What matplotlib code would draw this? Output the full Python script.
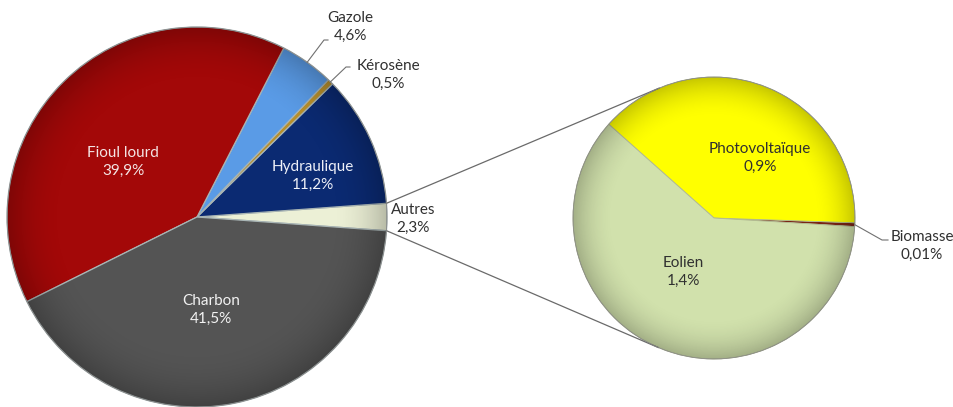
import numpy as np
import matplotlib.pyplot as plt

plt.rcParams['font.family'] = ['Lato', 'DejaVu Sans']

# --- données (part dans la production d'électricité) ---
# camembert principal, dans le sens anti-horaire en partant de la droite
MAIN_LABELS = ["Autres", "Hydraulique", "Kérosène", "Gazole", "Fioul lourd", "Charbon"]
MAIN_VALUES = [2.3, 11.2, 0.5, 4.6, 39.9, 41.5]
MAIN_PCT = ["2,3%", "11,2%", "0,5%", "4,6%", "39,9%", "41,5%"]
# détail de "Autres"
SUB_LABELS = ["Biomasse", "Photovoltaïque", "Eolien"]
SUB_VALUES = [0.01, 0.9, 1.4]
SUB_PCT = ["0,01%", "0,9%", "1,4%"]

MAIN_COLORS = ["#ECF0D6", "#0B2A72", "#B8902C", "#5A9BE6", "#A30808", "#545454"]
SUB_COLORS = ["#7A2414", "#FFFF00", "#D1E1AC"]

W, H = 954, 407
MAIN_C, MAIN_R = (197, 190), 190
SUB_C, SUB_R = (714, 189), 141

fig = plt.figure(figsize=(W / 100, H / 100), dpi=100)
ax = fig.add_axes([0, 0, 1, 1])

main_start = -MAIN_VALUES[0] / sum(MAIN_VALUES) * 360 / 2
wm, _ = ax.pie(MAIN_VALUES, colors=MAIN_COLORS, startangle=main_start,
               center=MAIN_C, radius=MAIN_R,
               wedgeprops=dict(edgecolor="#A8B4B4", linewidth=0.9))
ws, _ = ax.pie(SUB_VALUES, colors=SUB_COLORS, startangle=-3.5,
               center=SUB_C, radius=SUB_R,
               wedgeprops=dict(edgecolor="#B0B890", linewidth=0.6))


# léger assombrissement vers le bord (effet Excel)
def shade(center, r):
    n = 300
    xs = np.linspace(center[0] - r, center[0] + r, n)
    ys = np.linspace(center[1] - r, center[1] + r, n)
    X, Y = np.meshgrid(xs, ys)
    d = np.hypot(X - center[0], Y - center[1]) / r
    img = np.zeros((n, n, 4))
    img[..., 3] = 0.22 * np.clip((d - 0.7) / 0.3, 0, 1) ** 2
    im = ax.imshow(img, extent=(xs[0], xs[-1], ys[0], ys[-1]), origin="lower",
                   zorder=2, interpolation="bilinear")
    circ = plt.Circle(center, r, transform=ax.transData, fill=False, lw=0)
    ax.add_patch(circ)
    im.set_clip_path(circ)
    ax.add_patch(plt.Circle(center, r, fill=False, ec="#8A8A8A", lw=0.5, zorder=3))


shade(MAIN_C, MAIN_R)
shade(SUB_C, SUB_R)


# lignes de liaison : tangentes du bord de "Autres" vers le second camembert
def tangent_point(p, upper):
    dx, dy = SUB_C[0] - p[0], SUB_C[1] - p[1]
    d = np.hypot(dx, dy)
    phi = np.arctan2(dy, dx)
    a = np.arcsin(SUB_R / d)
    ang = phi + a + np.pi / 2 if upper else phi - a - np.pi / 2
    return SUB_C[0] + SUB_R * np.cos(ang), SUB_C[1] + SUB_R * np.sin(ang)


autres = wm[0]
for theta, upper in [(autres.theta2, True), (autres.theta1, False)]:
    t = np.deg2rad(theta)
    p = (MAIN_C[0] + MAIN_R * np.cos(t), MAIN_C[1] + MAIN_R * np.sin(t))
    q = tangent_point(p, upper)
    ax.plot([p[0], q[0]], [p[1], q[1]], color="#6A6A6A", lw=0.9, zorder=1)

# étiquettes (positions en pixels, y vers le bas)
label_pos = {
    "Fioul lourd": (123, 162), "Charbon": (211, 310), "Hydraulique": (313, 176),
    "Gazole": (350, 27), "Kérosène": (388, 75), "Autres": (413, 219),
    "Photovoltaïque": (760, 158), "Eolien": (683, 272), "Biomasse": (922, 246),
}
light = {"Fioul lourd": "#F4E4E4", "Charbon": "#F2F2F2", "Hydraulique": "#EEF0F8"}

for lab, pct in zip(MAIN_LABELS + SUB_LABELS, MAIN_PCT + SUB_PCT):
    x, y = label_pos[lab]
    ax.text(x, H - y, f"{lab}\n{pct}", ha="center", va="center", fontsize=11,
            linespacing=1.4, color=light.get(lab, "#303030"), zorder=5)


# traits de rappel pour les petites parts
def leader(wedge, center, r, elbow, end):
    t = np.deg2rad((wedge.theta1 + wedge.theta2) / 2)
    p = (center[0] + r * np.cos(t), center[1] + r * np.sin(t))
    ax.plot([p[0], elbow[0], end[0]], [p[1], H - elbow[1], H - end[1]],
            color="#707070", lw=0.8, zorder=4)


leader(wm[3], MAIN_C, MAIN_R, (324, 40), (328, 40))
leader(wm[2], MAIN_C, MAIN_R, (346, 67), (350, 67))
leader(ws[0], SUB_C, SUB_R, (882, 240), (888, 240))

ax.set_xlim(0, W)
ax.set_ylim(0, H)
ax.set_aspect("equal")
ax.axis("off")

fig.savefig("out.png", dpi=100, facecolor="white")
